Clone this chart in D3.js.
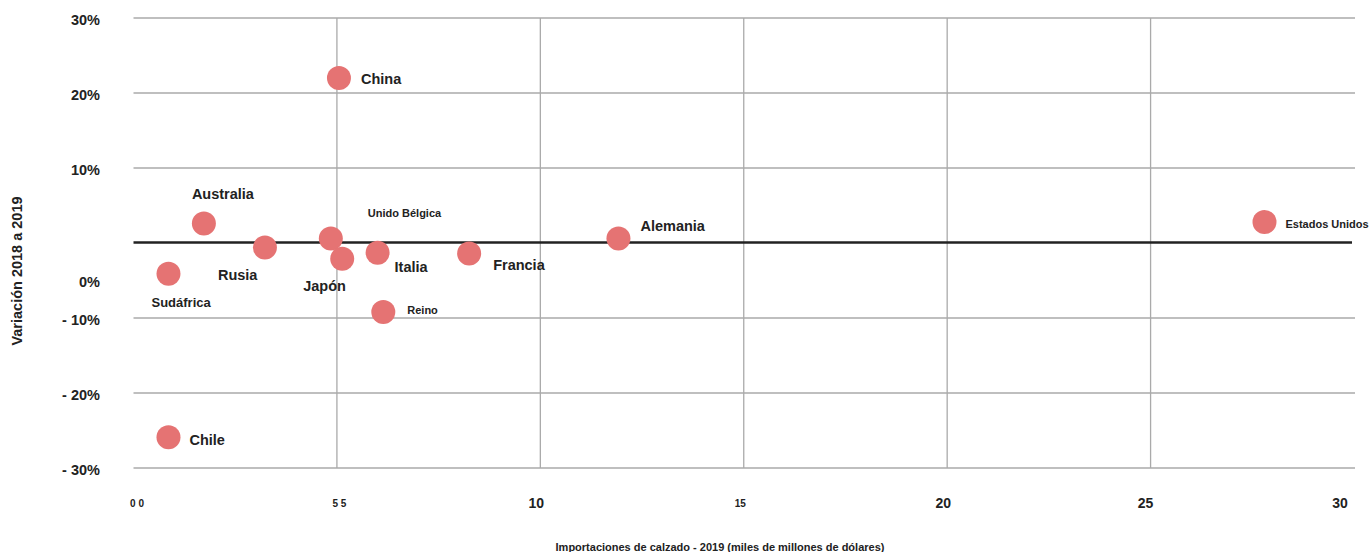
<!DOCTYPE html>
<html>
<head>
<meta charset="utf-8">
<script src="https://cdn.jsdelivr.net/npm/d3@7"></script>
<style>
  body { margin: 0; background: #fff; }
  text { font-family: "Liberation Sans", Arial, sans-serif; font-weight: bold; fill: #222; }
</style>
</head>
<body>
<div id="chart"></div>
<script>
// importaciones de calzado vs variacion anual
var paises = ["China", "Australia", "Unido Bélgica", "Rusia", "Sudáfrica", "Japón",
              "Italia", "Reino", "Chile", "Francia", "Alemania", "Estados Unidos"];
var importaciones = [5.05, 1.73, 4.85, 3.23, 0.86, 5.13, 6.0, 6.14, 0.86, 8.25, 11.92, 27.8];
var variacion = [22.0, 2.6, 0.6, -0.6, -4.1, -2.1, -1.3, -9.2, -25.9, -1.4, 0.6, 2.8];

var yTicks = [30, 20, 10, 0, -10, -20, -30];
var yTickLabels = ["30%", "20%", "10%", "0%", "- 10%", "- 20%", "- 30%"];
var xTicks = [0, 5, 10, 15, 20, 25, 30];
var xTickLabels = ["0 0", "5 5", "10", "15", "20", "25", "30"];

var width = 1370, height = 552;

var x = d3.scaleLinear().domain([0, 30]).range([133.5, 1354]);
var y = d3.scaleLinear().domain([-30, 30]).range([468, 18]);

// label placement around each dot: [dx, dy, font size]
var labelPos = {
	"China": [22, 1, 14.5],
	"Australia": [-12, -30, 14.5],
	"Unido Bélgica": [37, -26, 11],
	"Rusia": [-47, 27, 14.5],
	"Sudáfrica": [-17, 29, 13],
	"Japón": [-39, 27, 14.5],
	"Italia": [17, 14, 14.5],
	"Reino": [24, -2, 11],
	"Chile": [21, 3, 14.5],
	"Francia": [24, 11, 14.5],
	"Alemania": [22, -13, 14.5],
	"Estados Unidos": [21, 2, 11]
};

var svg = d3.select("#chart").append("svg")
	.attr("width", width)
	.attr("height", height);

// horizontal grid (skip zero, drawn as baseline)
svg.append("g").selectAll("line")
	.data(yTicks.filter(function(d){return d != 0;}))
	.enter().append("line")
	.attr("x1", x(0)).attr("x2", x(30) + 1)
	.attr("y1", function(d){return y(d);})
	.attr("y2", function(d){return y(d);})
	.attr("stroke", "#aaa")
	.attr("stroke-width", 1.3);

// vertical grid
svg.append("g").selectAll("line")
	.data([5, 10, 15, 20, 25])
	.enter().append("line")
	.attr("x1", function(d){return x(d);})
	.attr("x2", function(d){return x(d);})
	.attr("y1", y(30)).attr("y2", y(-30))
	.attr("stroke", "#aaa")
	.attr("stroke-width", 1.3);

// zero baseline
svg.append("line")
	.attr("x1", x(0)).attr("x2", x(30) - 2)
	.attr("y1", y(0) - 0.5).attr("y2", y(0) - 0.5)
	.attr("stroke", "#222")
	.attr("stroke-width", 2.4);

// y tick labels; the 0% label sits below the baseline
svg.append("g").selectAll("text")
	.data(yTicks)
	.enter().append("text")
	.attr("x", 100)
	.attr("y", function(d){return y(d) + (d == 0 ? 39 : 1.5);})
	.attr("text-anchor", "end")
	.attr("dominant-baseline", "central")
	.style("font-size", "14.5px")
	.text(function(d, i){return yTickLabels[i];});

// x tick labels
var xShift = [3.5, 2.5, -4, -3.5, -4, -5, -14];
svg.append("g").selectAll("text")
	.data(xTicks)
	.enter().append("text")
	.attr("x", function(d, i){return x(d) + xShift[i];})
	.attr("y", 503)
	.attr("text-anchor", "middle")
	.attr("dominant-baseline", "central")
	.style("font-size", function(d){return (d < 10 || d == 15) ? "10px" : "14px";})
	.text(function(d, i){return xTickLabels[i];});

// axis titles
svg.append("text")
	.attr("x", 720)
	.attr("y", 547)
	.attr("text-anchor", "middle")
	.attr("dominant-baseline", "central")
	.style("font-size", "11px")
	.text("Importaciones de calzado - 2019 (miles de millones de dólares)");

svg.append("text")
	.attr("transform", "translate(17,271) rotate(-90)")
	.attr("text-anchor", "middle")
	.attr("dominant-baseline", "central")
	.style("font-size", "14.5px")
	.text("Variación 2018 a 2019");

var data = paises.map(function(p, i){
	return {name: p, imp: importaciones[i], vari: variacion[i]};
});

svg.append("g").selectAll("circle")
	.data(data)
	.enter().append("circle")
	.attr("cx", function(d){return x(d.imp);})
	.attr("cy", function(d){return y(d.vari);})
	.attr("r", 12)
	.attr("fill", "#e57373");

svg.append("g").selectAll("text")
	.data(data)
	.enter().append("text")
	.attr("x", function(d){return x(d.imp) + labelPos[d.name][0];})
	.attr("y", function(d){return y(d.vari) + labelPos[d.name][1];})
	.attr("dominant-baseline", "central")
	.style("font-size", function(d){return labelPos[d.name][2] + "px";})
	.text(function(d){return d.name;});
</script>
</body>
</html>
